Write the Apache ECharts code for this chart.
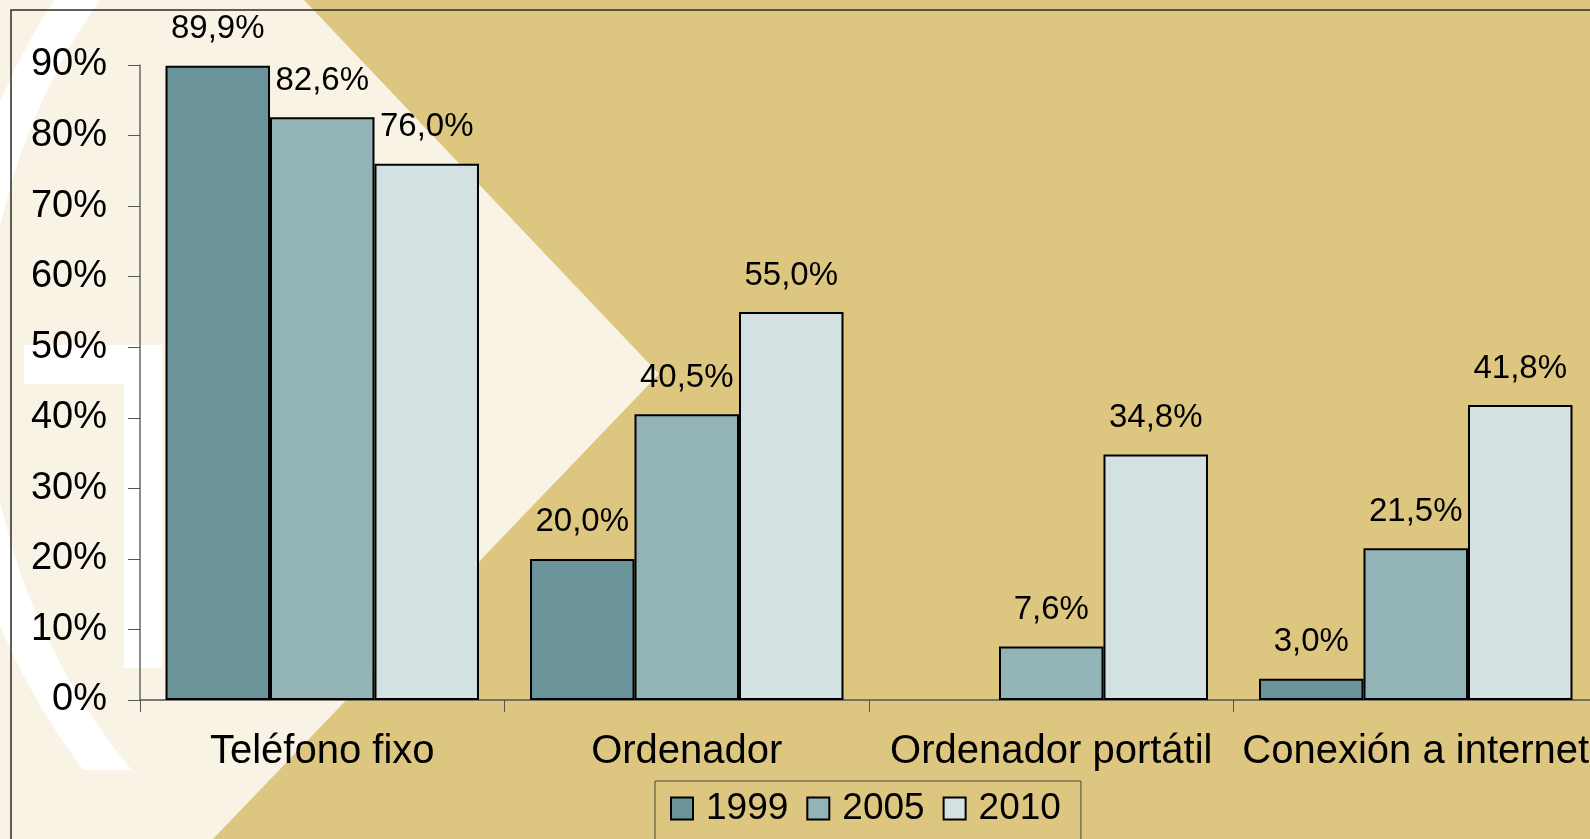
<!DOCTYPE html>
<html>
<head>
<meta charset="utf-8">
<title>Equipamiento dos fogares</title>
<script src="https://cdn.jsdelivr.net/npm/echarts@6/dist/echarts.min.js"></script>
<style>
  html, body { margin: 0; padding: 0; }
  #chart { width: 1590px; height: 839px; }
</style>
</head>
<body>
<div id="chart"></div>
<script>
  const categories = ['Teléfono fixo', 'Ordenador', 'Ordenador portátil', 'Conexión a internet'];
  const years = ['1999', '2005', '2010'];
  const values1999 = [89.9, 20.0, null, 3.0];
  const values2005 = [82.6, 40.5, 7.6, 21.5];
  const values2010 = [76.0, 55.0, 34.8, 41.8];
  const yTicks = { min: 0, max: 90, interval: 10 };

  const colors = ['#6A9499', '#93B4B6', '#D4E1E3'];
  const font = 'Arial, "Liberation Sans", sans-serif';
  const deg = Math.PI / 180;

  const myChart = echarts.init(document.getElementById('chart'));

  function pct(v) {
    return v.toFixed(1).replace('.', ',') + '%';
  }

  function barSeries(name, data, color) {
    return {
      name: name,
      type: 'bar',
      data: data,
      barGap: '0%',
      barCategoryGap: '14%',
      itemStyle: { color: color, borderColor: '#000', borderWidth: 2 },
      label: {
        show: true,
        position: 'top',
        distance: 20,
        color: '#000',
        fontFamily: font,
        fontSize: 33,
        formatter: p => pct(p.value)
      }
    };
  }

  const option = {
    backgroundColor: '#DDC680',
    animation: false,
    graphic: {
      elements: [
        // fondo decorativo
        {
          type: 'polygon', z: -10, silent: true,
          shape: { points: [[0, 0], [304, 0], [659, 374], [213, 839], [0, 839]] },
          style: { fill: '#F9F3E6' }
        },
        {
          type: 'sector', z: -9, silent: true,
          shape: { cx: 620, cy: 364, r: 673, r0: 635,
                   startAngle: 130 * deg, endAngle: 222 * deg },
          style: { fill: '#FFFFFF' }
        },
        {
          type: 'rect', z: -8, silent: true,
          shape: { x: 0, y: 770, width: 200, height: 69 },
          style: { fill: '#F9F3E6' }
        },
        {
          type: 'rect', z: -8, silent: true,
          shape: { x: 24, y: 345, width: 138, height: 39 },
          style: { fill: '#FFFFFF' }
        },
        {
          type: 'rect', z: -8, silent: true,
          shape: { x: 124, y: 384, width: 38, height: 284 },
          style: { fill: '#FFFFFF' }
        },
        {
          type: 'polyline', z: 100, silent: true,
          shape: { points: [[11, 839], [11, 10], [1590, 10]] },
          style: { stroke: '#2a2a2a', lineWidth: 1.5, fill: null }
        }
      ]
    },
    legend: {
      data: years,
      left: 655,
      top: 781,
      orient: 'horizontal',
      itemWidth: 22,
      itemHeight: 22,
      itemGap: 18,
      padding: [9, 20, 30, 15],
      borderColor: '#444',
      borderWidth: 1,
      icon: 'rect',
      textStyle: {
        color: '#000',
        fontFamily: font,
        fontSize: 37,
        padding: [0, 0, 0, 8]
      }
    },
    grid: {
      left: 140,
      top: 65,
      width: 1458,
      bottom: 139,
      containLabel: false,
      outerBoundsMode: 'none'
    },
    xAxis: {
      type: 'category',
      data: categories,
      axisLine: { lineStyle: { color: '#555', width: 1.5 } },
      axisTick: { show: true, length: 12, lineStyle: { color: '#555' } },
      axisLabel: {
        color: '#000',
        fontFamily: font,
        fontSize: 40,
        margin: 32,
        interval: 0
      }
    },
    yAxis: {
      type: 'value',
      min: yTicks.min,
      max: yTicks.max,
      interval: yTicks.interval,
      splitLine: { show: false },
      axisLine: { show: true, lineStyle: { color: '#666', width: 1.5 } },
      axisTick: { show: true, length: 12, lineStyle: { color: '#555' } },
      axisLabel: {
        color: '#000',
        fontFamily: font,
        fontSize: 38,
        margin: 33,
        formatter: '{value}%'
      }
    },
    series: [
      barSeries(years[0], values1999, colors[0]),
      barSeries(years[1], values2005, colors[1]),
      barSeries(years[2], values2010, colors[2])
    ]
  };

  myChart.setOption(option);
</script>
</body>
</html>
